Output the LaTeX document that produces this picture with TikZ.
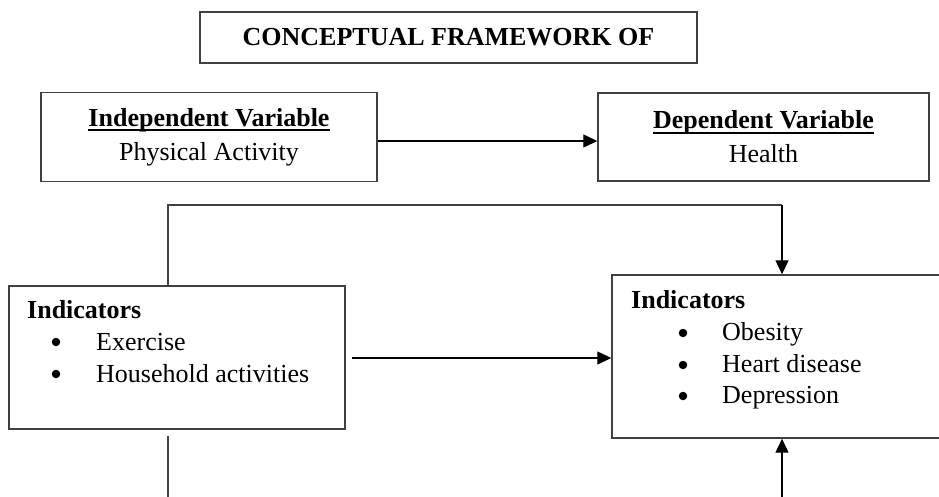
\documentclass[tikz,border=0pt]{standalone}
\usepackage{fontspec}
\setmainfont{Liberation Serif}
\usetikzlibrary{arrows.meta,calc}
\definecolor{BoxClr}{rgb}{0.25,0.25,0.25}
\newcommand{\headul}[1]{\setbox0=\hbox{#1}\rlap{\rule[-5pt]{\wd0}{2pt}}\box0}

\tikzset{
  box/.style={draw=BoxClr,line width=1.4pt,inner sep=0pt,align=center,
    font=\fontsize{26}{34}\selectfont},
  txt/.style={inner sep=0pt,anchor=base west,font=\fontsize{26}{32}\selectfont},
  bul/.style={circle,fill=black,inner sep=0pt,minimum size=8.5pt},
  flow/.style={line width=1.2pt,-{Triangle[length=14pt,width=13pt]}},
  link/.style={line width=1.2pt,color=BoxClr}
}

\begin{document}
\begin{tikzpicture}[x=1pt,y=-1pt]
\useasboundingbox (0,0) rectangle (939,497);

% boxes
\node[box,minimum width=497pt,minimum height=51pt] (title) at (448.5,37.5)
  {\textbf{CONCEPTUAL FRAMEWORK OF}};
\node[box,minimum width=336pt,minimum height=89pt] (indep) at (209,137)
  {\textbf{\headul{Independent Variable}}\\Physical Activity};
\node[box,minimum width=331pt,minimum height=88pt] (dep) at (763.5,137)
  {\textbf{\headul{Dependent Variable}}\\Health};
\node[box,minimum width=336pt,minimum height=143pt] (indl) at (177,357.5) {};
\node[box,minimum width=333pt,minimum height=163pt] (indr) at (778.5,356.5) {};

% left indicators
\node[txt] (indlhead) at (27,318) {\textbf{Indicators}};
\node[bul] (bl1) at (56,342) {};
\node[txt] (il1) at (96,350) {Exercise};
\node[bul] (bl2) at (56,374) {};
\node[txt] (il2) at (96,382) {Household activities};

% right indicators
\node[txt] (indrhead) at (631,308) {\textbf{Indicators}};
\node[bul] (br1) at (683,333) {};
\node[txt] (ir1) at (722,340) {Obesity};
\node[bul] (br2) at (683,365) {};
\node[txt] (ir2) at (722,372) {Heart disease};
\node[bul] (br3) at (683,396) {};
\node[txt] (ir3) at (722,403) {Depression};

\coordinate (upL) at (168,205);
\coordinate (upR) at (782,205);
\coordinate (midL) at (352,358);
\coordinate (lowLtop) at (168,436);
\coordinate (lowLbot) at (168,497);
\coordinate (lowR) at (782,497);

% connectors
\draw[flow] ([yshift=-4pt]indep.east) -- ([yshift=-4pt]dep.west);
\draw[link] (upL |- indl.north) -- (upL) -- (upR);
\draw[flow] (upR) -- (upR |- indr.north);
\draw[flow] (midL) -- (midL -| indr.west);
\draw[link] (lowLtop) -- (lowLbot);
\draw[flow] (lowR) -- (lowR |- indr.south);

\end{tikzpicture}
\end{document}
